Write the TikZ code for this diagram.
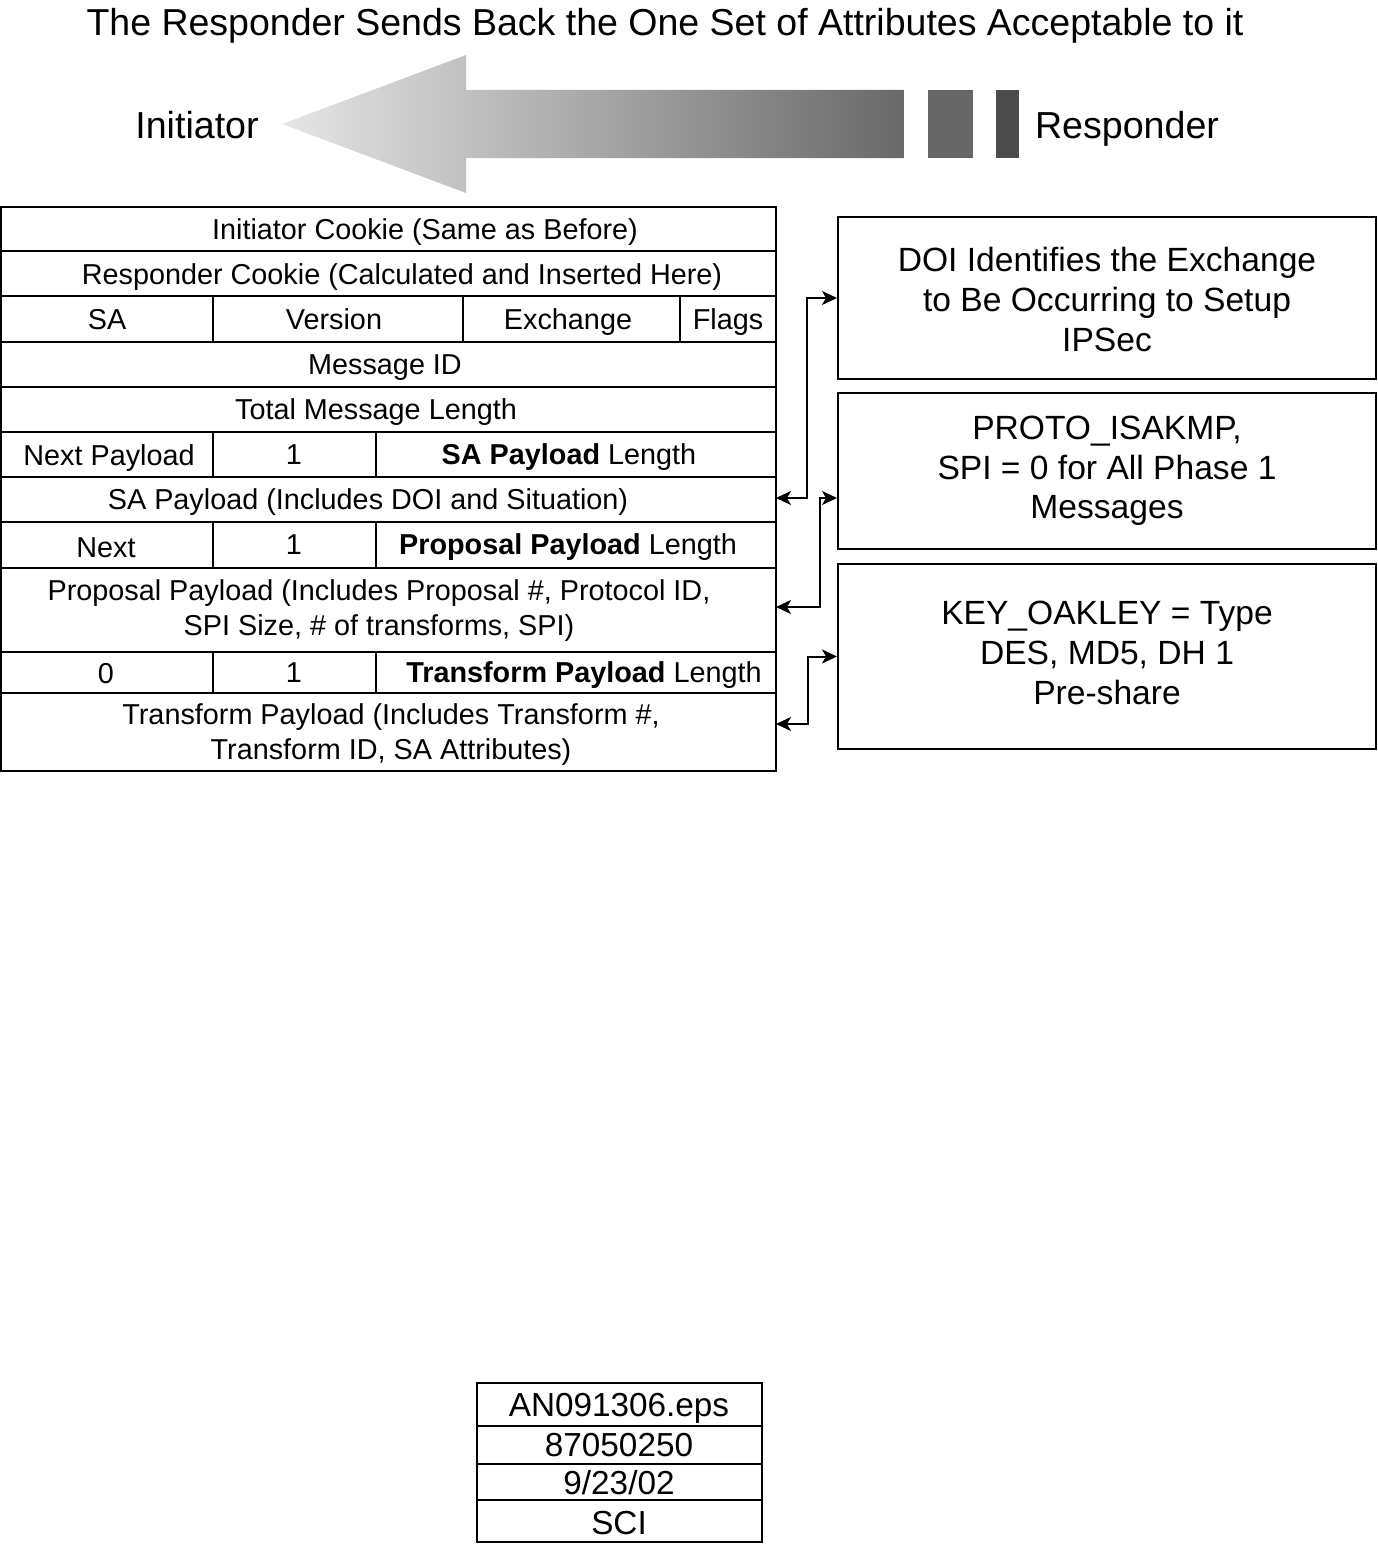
\documentclass[tikz,border=0pt]{standalone}
\usepackage{fontspec}
\setmainfont{Liberation Sans}
\usetikzlibrary{arrows.meta}
\begin{document}
\begin{tikzpicture}[x=1pt,y=-1pt,line width=2pt,
  tbl/.style={font=\fontsize{28.8}{35}\selectfont,inner sep=0pt,anchor=center,text height=20.6pt,text depth=0pt},
  tblm/.style={font=\fontsize{28.8}{35}\selectfont,inner sep=0pt,anchor=center,align=center},
  note/.style={draw,line width=2pt,minimum width=538pt,inner sep=0pt,align=center,font=\fontsize{33.6}{39.7}\selectfont},
  lbl/.style={font=\fontsize{37.6}{42}\selectfont,inner sep=0pt,text height=26.9pt,text depth=0pt},
  stamp/.style={font=\fontsize{33.3}{36}\selectfont,inner sep=0pt,text height=23.8pt,text depth=0pt},
  conn/.style={line width=2pt,{Stealth[length=15pt,width=14pt,inset=4pt]}-{Stealth[length=15pt,width=14pt,inset=4pt]}}]
\useasboundingbox (0,0) rectangle (1377,1544);
% title
\node[lbl,font=\fontsize{37.5}{42}\selectfont] (title) at (665,22) {The Responder Sends Back the One Set of Attributes Acceptable to it};
% big arrow
\shade[left color=black!10,right color=black!59] (282,124) -- (466,55) -- (466,90) -- (904,90) -- (904,158) -- (466,158) -- (466,193) -- cycle;
\fill[black!60] (928,90) rectangle (973,158);
\fill[black!70] (996,90) rectangle (1019,158);
\node[lbl] (init) at (197,125) {Initiator};
\node[lbl] (resp) at (1127,125) {Responder};
% table
\draw (1,207) rectangle (776,771);
\foreach \yy in {251,296,342,387,432,477,522,568,652,693} \draw (1,\yy) -- (776,\yy);
\foreach \xx in {213,463,680} \draw (\xx,296) -- (\xx,342);
\foreach \ya/\yb in {432/477,522/568,652/693} {\draw (213,\ya) -- (213,\yb); \draw (376,\ya) -- (376,\yb);}
\node[tbl] (r1) at (425,229) {Initiator Cookie (Same as Before)};
\node[tbl] (r2) at (402,274) {Responder Cookie (Calculated and Inserted Here)};
\node[tbl] (r3a) at (107,319) {SA};
\node[tbl] (r3b) at (334,319) {Version};
\node[tbl] (r3c) at (568,319) {Exchange};
\node[tbl] (r3d) at (728,319) {Flags};
\node[tbl] (r4) at (385,364) {Message ID};
\node[tbl] (r5) at (376,409) {Total Message Length};
\node[tbl] (r6a) at (109,455) {Next Payload};
\node[tbl] (r6b) at (294,454) {1};
\node[tbl] (r6c) at (569,454) {\textbf{SA Payload} Length};
\node[tbl] (r7) at (368,499) {SA Payload (Includes DOI and Situation)};
\node[tbl] (r8a) at (106,547) {Next};
\node[tbl] (r8b) at (294,544) {1};
\node[tbl] (r8c) at (568,544) {\textbf{Proposal Payload} Length};
\node[tblm] (r9) at (379,611) {Proposal Payload (Includes Proposal \#, Protocol ID,\\SPI Size, \# of transforms, SPI)};
\node[tbl] (r10a) at (106,673) {0};
\node[tbl] (r10b) at (294,672) {1};
\node[tbl] (r10c) at (584,672) {\textbf{Transform Payload} Length};
\node[tblm] (r11) at (391,735) {Transform Payload (Includes Transform \#,\\Transform ID, SA Attributes)};
% notes
\node[note,minimum height=162pt] (n1) at (1107,298) {};
\node[note,draw=none,minimum height=0pt] (n1t) at (1107,299.5) {DOI Identifies the Exchange\\to Be Occurring to Setup\\IPSec};
\node[note,minimum height=156pt] (n2) at (1107,471) {PROTO\_ISAKMP,\\SPI = 0 for All Phase 1\\Messages};
\node[note,minimum height=185pt] (n3) at (1107,656.5) {};
\node[note,draw=none,minimum height=0pt] (n3t) at (1107,653) {KEY\_OAKLEY = Type\\DES, MD5, DH 1\\Pre-share};
% connectors
\coordinate (t1) at (776,498);
\coordinate (t2) at (776,607);
\coordinate (t3) at (776,724);
\coordinate (n2in) at (n2.west |- t1);
\draw[conn] (t1) -- ++(31,0) |- (n1.west);
\draw[conn] (t2) -- ++(44,0) |- (n2in);
\draw[conn] (t3) -- ++(32,0) |- (n3.west);
% stamp
\draw (477,1383) rectangle (762,1542);
\foreach \yy in {1426,1464,1500} \draw (477,\yy) -- (762,\yy);
\node[stamp] (s1) at (619,1405) {AN091306.eps};
\node[stamp] (s2) at (619,1445) {87050250};
\node[stamp] (s3) at (619,1483) {9/23/02};
\node[stamp] (s4) at (619,1523) {SCI};
\end{tikzpicture}
\end{document}
